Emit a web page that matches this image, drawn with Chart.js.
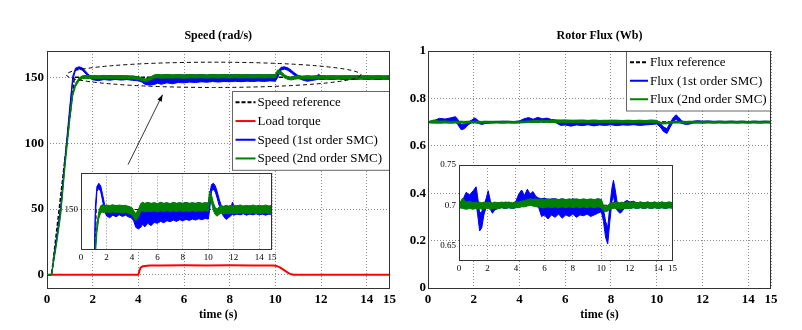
<!DOCTYPE html>
<html lang="en">
<head>
<meta charset="UTF-8">
<title>Speed and Rotor Flux</title>
<script src="https://cdn.jsdelivr.net/npm/chart.js"></script>
<style>
  body { margin: 0; background: #fff; }
  #wrap { position: relative; width: 802px; height: 330px; }
  canvas { position: absolute; }
</style>
</head>
<body>
<div id="wrap">
  <canvas id="speedChart" width="400" height="330" style="left:0;top:0"></canvas>
  <canvas id="speedZoom" width="220" height="100" style="left:60px;top:165px"></canvas>
  <canvas id="fluxChart" width="400" height="330" style="left:400px;top:0"></canvas>
  <canvas id="fluxZoom" width="250" height="125" style="left:430px;top:155px"></canvas>
</div>

<script>
// ---- data ----
const timeTicks = [0, 2, 4, 6, 8, 10, 12, 14, 15];
const speedTicks = [0, 50, 100, 150];
const speedZoomTicks = [150];
const fluxTicks = [0, 0.2, 0.4, 0.6, 0.8, 1];
const fluxZoomTicks = [0.65, 0.7, 0.75];

// speed reference and load torque
const refT = [0, 0.2, 1.2, 15];
const refV = [0, 0, 150, 150];
const torqueT = [0, 4.0, 4.05, 4.1, 4.2, 4.3, 4.5, 5.0, 6.0, 7.0, 8.0, 9.0, 9.9, 10.0, 10.1, 10.2, 10.3, 10.4, 10.5, 10.6, 10.7, 10.8, 12.0, 15.0];
const torqueV = [0, 0, 3.2, 5.5, 6.5, 6.8, 7.0, 7.1, 7.2, 7.1, 7.2, 7.1, 7.1, 6.9, 6.4, 5.6, 4.5, 3.4, 2.2, 1.1, 0.4, 0.1, 0, 0];

// speed responses: upper / lower edge of the chattering band
const speedT = [0, 0.2, 0.4, 0.6, 0.8, 1.0, 1.13, 1.25, 1.4, 1.55, 1.7, 1.85,
  2.0, 2.25, 2.5, 2.75, 3.0, 3.25, 3.5, 3.75, 4.0, 4.15, 4.3, 4.5, 4.7, 4.85,
  5.0, 5.25, 5.5, 5.75, 6.0, 6.25, 6.5, 6.75, 7.0, 7.25, 7.5, 7.75, 8.0, 8.25, 8.5, 8.75, 9.0, 9.25, 9.5, 9.75,
  10.0, 10.1, 10.25, 10.4, 10.55, 10.7, 10.85, 11.0, 11.2, 11.4, 11.6, 11.8, 11.9,
  12.0, 12.25, 12.5, 12.75, 13.0, 13.25, 13.5, 13.75, 14.0, 14.25, 14.5, 14.75, 15.0];
const smc1Hi = [0, 0.5, 26, 52, 91, 128, 151, 157, 158, 157.2, 154.5, 151.6,
  150.6, 151.0, 150.7, 151.3, 150.8, 151.2, 150.6, 151.0, 150.3, 149.2, 147.9, 148.3, 151.2, 151.9,
  151.5, 152.1, 151.6, 152.0, 151.7, 152.1, 151.8, 152.0, 151.7, 152.1, 151.8, 152.0, 151.9, 152.2, 151.8, 152.0, 151.9, 152.1, 151.8, 152.0,
  151.9, 154.5, 157.6, 158.0, 157.2, 155.4, 153.2, 151.4, 150.3, 149.3, 150.2, 151.0, 152.3,
  150.9, 151.1, 150.7, 151.0, 150.8, 151.2, 150.7, 151.0, 150.8, 151.1, 150.7, 151.0, 150.8];
const smc1Lo = [0, 0, 24, 49, 88, 125, 148, 155.5, 156.5, 155.4, 152.6, 149.6,
  148.1, 147.5, 148.3, 147.8, 148.4, 147.9, 148.3, 147.7, 147.4, 146.4, 144.6, 144.1, 144.6, 145.6,
  144.7, 145.8, 145.1, 146.1, 145.8, 146.4, 146.0, 146.6, 146.3, 146.8, 146.4, 146.9, 146.6, 147.0, 146.7, 147.1, 146.8, 147.2, 146.9, 147.3,
  147.1, 149.8, 155.6, 156.2, 155.3, 153.4, 151.2, 149.4, 147.9, 147.0, 147.6, 148.2, 148.6,
  148.3, 148.6, 148.4, 148.7, 148.3, 148.6, 148.4, 148.7, 148.4, 148.6, 148.3, 148.6, 148.5];
const smc2Hi = [0, 0.5, 23, 48, 87, 121, 139, 145.5, 149.5, 151.2, 151.5, 151.1,
  151.4, 151.2, 151.5, 151.1, 151.4, 151.2, 151.3, 150.9, 150.6, 149.6, 148.8, 150.0, 151.9, 152.2,
  151.9, 152.2, 151.9, 152.1, 151.8, 152.2, 151.9, 152.1, 151.8, 152.2, 151.9, 152.1, 151.8, 152.2, 151.9, 152.1, 151.8, 152.2, 151.9, 152.1,
  152.0, 155.6, 154.4, 152.0, 150.6, 150.2, 150.9, 151.2, 151.0, 151.3, 151.1, 151.3, 151.0,
  151.3, 151.1, 151.4, 151.1, 151.3, 151.0, 151.4, 151.1, 151.3, 151.1, 151.4, 151.1, 151.3];
const smc2Lo = [0, 0, 21, 45, 84, 118, 136, 143, 147.3, 149.0, 149.2, 149.0,
  149.3, 149.0, 149.3, 149.1, 149.2, 148.9, 149.2, 148.8, 148.4, 147.5, 146.6, 147.6, 149.5, 149.6,
  149.3, 149.5, 149.4, 149.6, 149.3, 149.6, 149.4, 149.7, 149.4, 149.6, 149.4, 149.7, 149.4, 149.6, 149.5, 149.7, 149.4, 149.6, 149.5, 149.7,
  149.5, 153.3, 152.0, 149.6, 148.4, 148.0, 148.6, 148.9, 148.7, 148.9, 148.7, 148.9, 148.8,
  148.9, 148.8, 149.0, 148.8, 148.9, 148.7, 149.0, 148.8, 148.9, 148.8, 149.0, 148.8, 148.9];

// rotor flux
const fluxRefT = [0, 15];
const fluxRefV = [0.7, 0.7];
const fluxT = [0, 0.25, 0.5, 0.75, 1.0, 1.2, 1.3, 1.45, 1.6, 1.75, 1.9, 2.05, 2.2, 2.35,
  2.5, 2.75, 3.0, 3.25, 3.5, 3.75, 4.0, 4.2, 4.4, 4.6, 4.8, 5.0, 5.2, 5.4, 5.6, 5.8,
  6.0, 6.25, 6.5, 6.75, 7.0, 7.25, 7.5, 7.75, 8.0, 8.25, 8.5, 8.75, 9.0, 9.25, 9.5, 9.75, 10.0,
  10.15, 10.3, 10.45, 10.6, 10.75, 10.85, 10.95, 11.1, 11.3, 11.45, 11.6, 11.8,
  12.0, 12.25, 12.5, 12.75, 13.0, 13.25, 13.5, 13.75, 14.0, 14.25, 14.5, 14.75, 15.0];
const flux1Hi = [0.702, 0.706, 0.716, 0.713, 0.718, 0.723, 0.712, 0.690, 0.692, 0.700, 0.708, 0.718, 0.706, 0.698,
  0.702, 0.703, 0.702, 0.704, 0.703, 0.702, 0.705, 0.714, 0.719, 0.712, 0.720, 0.714, 0.717, 0.711, 0.709, 0.708,
  0.709, 0.707, 0.708, 0.708, 0.707, 0.708, 0.707, 0.706, 0.708, 0.707, 0.706, 0.707, 0.706, 0.707, 0.706, 0.708, 0.707,
  0.695, 0.680, 0.672, 0.700, 0.722, 0.731, 0.722, 0.705, 0.698, 0.700, 0.704, 0.706,
  0.704, 0.705, 0.703, 0.704, 0.703, 0.704, 0.703, 0.704, 0.702, 0.704, 0.703, 0.704, 0.703];
const flux1Lo = [0.698, 0.697, 0.698, 0.699, 0.700, 0.702, 0.690, 0.668, 0.672, 0.688, 0.697, 0.700, 0.695, 0.690,
  0.694, 0.696, 0.697, 0.696, 0.697, 0.696, 0.697, 0.699, 0.701, 0.700, 0.702, 0.701, 0.702, 0.700, 0.697, 0.686,
  0.688, 0.683, 0.688, 0.685, 0.689, 0.684, 0.688, 0.686, 0.689, 0.685, 0.688, 0.687, 0.689, 0.686, 0.688, 0.690, 0.692,
  0.680, 0.660, 0.652, 0.680, 0.705, 0.712, 0.702, 0.694, 0.690, 0.692, 0.696, 0.697,
  0.696, 0.697, 0.696, 0.697, 0.696, 0.697, 0.696, 0.697, 0.696, 0.697, 0.696, 0.697, 0.697];
const flux2Hi = [0.701, 0.709, 0.704, 0.705, 0.703, 0.704, 0.703, 0.704, 0.703, 0.704, 0.703, 0.704, 0.703, 0.703,
  0.704, 0.703, 0.704, 0.703, 0.704, 0.703, 0.704, 0.704, 0.705, 0.706, 0.707, 0.708, 0.707, 0.708, 0.707, 0.708,
  0.707, 0.708, 0.707, 0.708, 0.707, 0.708, 0.707, 0.708, 0.707, 0.708, 0.707, 0.708, 0.707, 0.708, 0.707, 0.708, 0.707,
  0.700, 0.698, 0.700, 0.702, 0.703, 0.704, 0.703, 0.704, 0.703, 0.704, 0.703, 0.704,
  0.703, 0.704, 0.703, 0.704, 0.703, 0.704, 0.703, 0.704, 0.703, 0.704, 0.703, 0.704, 0.703];
const flux2Lo = [0.697, 0.696, 0.695, 0.696, 0.695, 0.696, 0.695, 0.696, 0.695, 0.696, 0.696, 0.696, 0.695, 0.696,
  0.696, 0.696, 0.697, 0.696, 0.697, 0.696, 0.697, 0.697, 0.698, 0.698, 0.699, 0.700, 0.699, 0.698, 0.698, 0.697,
  0.697, 0.698, 0.697, 0.698, 0.697, 0.698, 0.697, 0.698, 0.697, 0.698, 0.697, 0.698, 0.697, 0.698, 0.697, 0.698, 0.697,
  0.693, 0.692, 0.693, 0.695, 0.696, 0.696, 0.696, 0.696, 0.695, 0.696, 0.696, 0.696,
  0.696, 0.697, 0.696, 0.697, 0.696, 0.697, 0.696, 0.697, 0.696, 0.697, 0.696, 0.697, 0.696];

// ---- styling ----
const FONT = "'Liberation Serif', 'Times New Roman', serif";
const BLUE = '#0000ff', GREEN = '#008000', RED = '#ff0000', BLACK = '#000000';
const GRID = '#8c8c8c';

function pts(t, v) { return t.map((x, i) => ({ x: x, y: v[i] })); }

function line(t, v, color, w, dash) {
    return { data: pts(t, v), borderColor: color, borderWidth: w, borderDash: dash || [],
             pointRadius: 0, fill: false, tension: 0, clip: 0 };
}

// chattering band: upper edge filled down to lower edge
function band(t, hi, lo, color, w) {
    return [
        { data: pts(t, hi), borderColor: color, backgroundColor: color, borderWidth: w,
          pointRadius: 0, fill: '+1', tension: 0, clip: 0 },
        { data: pts(t, lo), borderColor: color, backgroundColor: color, borderWidth: w,
          pointRadius: 0, fill: false, tension: 0, clip: 0 }
    ];
}

function scales(o) {
    return {
        x: {
            type: 'linear', min: 0, max: 15,
            afterBuildTicks: s => { s.ticks = timeTicks.map(v => ({ value: v })); },
            afterFit: s => { s.height = o.xh; },
            grid: { color: GRID, lineWidth: 1, drawTicks: false },
            border: { display: false, dash: [1, 2] },
            ticks: { padding: o.pad, color: '#000', maxRotation: 0, autoSkip: false,
                     font: { family: FONT, size: o.fs, weight: o.bold ? 'bold' : 'normal' } },
            title: { display: !!o.xTitle, text: o.xTitle || '', color: '#000', padding: { top: 0, bottom: 8 },
                     font: { family: FONT, size: 12, weight: 'bold' } }
        },
        y: {
            type: 'linear', min: o.ymin, max: o.ymax,
            afterBuildTicks: s => { s.ticks = o.yTicks.map(v => ({ value: v })); },
            afterFit: s => { s.width = o.yw; },
            grid: { color: GRID, lineWidth: 1, drawTicks: false },
            border: { display: false, dash: [1, 2] },
            ticks: { padding: o.ypad, color: '#000', autoSkip: false, callback: v => '' + v,
                     font: { family: FONT, size: o.fs, weight: o.bold ? 'bold' : 'normal' } }
        }
    };
}

// frame, title, legend and the zoom ellipse/arrow
function deco(d) {
    return {
        id: 'deco',
        beforeDraw(chart) {
            if (!d.blank) return;
            const a = chart.chartArea, c = chart.ctx;
            c.save();
            c.fillStyle = '#fff';
            c.fillRect(a.left, a.top, a.right - a.left, a.bottom - a.top);
            c.restore();
        },
        afterDatasetsDraw(chart) {
            const a = chart.chartArea, c = chart.ctx;
            const sx = chart.scales.x, sy = chart.scales.y;
            c.save();
            if (d.ellipse) {
                const e = d.ellipse;
                const cx = sx.getPixelForValue(e.t), cy = sy.getPixelForValue(e.v);
                const rx = sx.getPixelForValue(e.t + e.rt) - cx;
                const ry = cy - sy.getPixelForValue(e.v + e.rv);
                c.strokeStyle = '#000'; c.lineWidth = 1; c.setLineDash([4, 3]);
                c.beginPath(); c.ellipse(cx, cy, rx, ry, 0, 0, Math.PI * 2); c.stroke();
                c.setLineDash([]);
            }
            if (d.arrow) {
                const r = d.arrow;
                const x1 = sx.getPixelForValue(r.t1), y1 = sy.getPixelForValue(r.v1);
                const x2 = sx.getPixelForValue(r.t2), y2 = sy.getPixelForValue(r.v2);
                const ang = Math.atan2(y2 - y1, x2 - x1);
                c.strokeStyle = '#000'; c.fillStyle = '#000'; c.lineWidth = 0.8;
                c.beginPath(); c.moveTo(x1, y1); c.lineTo(x2, y2); c.stroke();
                c.beginPath();
                c.moveTo(x2, y2);
                c.lineTo(x2 - 7 * Math.cos(ang - 0.35), y2 - 7 * Math.sin(ang - 0.35));
                c.lineTo(x2 - 7 * Math.cos(ang + 0.35), y2 - 7 * Math.sin(ang + 0.35));
                c.closePath(); c.fill();
            }
            if (d.legend) {
                const L = d.legend;
                const left = a.right - L.width, top = a.top + L.top;
                const h = L.rowH * L.items.length + 4;
                c.fillStyle = '#fff';
                c.fillRect(left, top, L.width, h);
                c.strokeStyle = '#666'; c.lineWidth = 1;
                c.strokeRect(Math.round(left) + 0.5, Math.round(top) + 0.5, L.width - 1, h);
                c.font = '13px ' + FONT;
                c.textBaseline = 'middle';
                L.items.forEach((it, i) => {
                    const y = top + 2 + L.rowH * (i + 0.5);
                    c.strokeStyle = it.color; c.lineWidth = 2;
                    c.setLineDash(it.dash ? [4, 2] : []);
                    c.beginPath(); c.moveTo(left + 4, y); c.lineTo(left + L.line, y); c.stroke();
                    c.setLineDash([]);
                    c.fillStyle = '#000';
                    c.fillText(it.text, left + L.line + 2, y + 0.5);
                });
            }
            c.strokeStyle = '#333'; c.lineWidth = 1;
            c.strokeRect(Math.round(a.left) + 0.5, Math.round(a.top) + 0.5,
                         Math.round(a.right - a.left) - 1, Math.round(a.bottom - a.top));
            if (d.title) {
                c.fillStyle = '#000';
                c.font = 'bold 12px ' + FONT;
                c.textAlign = 'center'; c.textBaseline = 'middle';
                c.fillText(d.title, (a.left + a.right) / 2, 36);
            }
            c.restore();
        }
    };
}

function draw(id, datasets, layoutPad, sc, d) {
    return new Chart(document.getElementById(id), {
        type: 'line',
        data: { datasets: datasets },
        options: {
            responsive: false,
            animation: false,
            events: [],
            layout: { padding: layoutPad },
            plugins: { legend: { display: false }, tooltip: { enabled: false }, title: { display: false } },
            scales: sc
        },
        plugins: [deco(d)]
    });
}

// ---- speed ----
draw('speedChart',
    [].concat(band(speedT, smc2Hi, smc2Lo, GREEN, 1), band(speedT, smc1Hi, smc1Lo, BLUE, 1),
              [line(torqueT, torqueV, RED, 2), line(refT, refV, BLACK, 1.5, [4, 2])]),
    { left: 0, top: 51, right: 9, bottom: 0 },
    scales({ xh: 42, yw: 47, pad: 4, ypad: 3, fs: 13, bold: true, xTitle: 'time (s)',
             ymin: -10, ymax: 170, yTicks: speedTicks }),
    {
        title: 'Speed (rad/s)',
        ellipse: { t: 7.3, v: 151.9, rt: 6.45, rv: 9.6 },
        arrow: { t1: 3.55, v1: 83.7, t2: 5.06, v2: 136.8 },
        legend: { top: 40, width: 158, rowH: 18.7, line: 24, items: [
            { text: 'Speed reference', color: BLACK, dash: true },
            { text: 'Load torque', color: RED },
            { text: 'Speed (1st order SMC)', color: BLUE },
            { text: 'Speed (2nd order SMC)', color: GREEN }
        ] }
    });

draw('speedZoom',
    [].concat(band(speedT, smc2Hi, smc2Lo, GREEN, 1), band(speedT, smc1Hi, smc1Lo, BLUE, 1),
              [line(refT, refV, BLACK, 1, [4, 2])]),
    { left: 0, top: 7, right: 8, bottom: 0 },
    scales({ xh: 16, yw: 21, pad: 3, ypad: 3, fs: 9, bold: false,
             ymin: 138, ymax: 161, yTicks: speedZoomTicks }),
    { blank: true });

// ---- rotor flux ----
draw('fluxChart',
    [].concat(band(fluxT, flux2Hi, flux2Lo, GREEN, 1), band(fluxT, flux1Hi, flux1Lo, BLUE, 1),
              [line(fluxRefT, fluxRefV, BLACK, 1.5, [4, 2])]),
    { left: 0, top: 51, right: 29, bottom: 0 },
    scales({ xh: 42, yw: 28, pad: 4, ypad: 2, fs: 13, bold: true, xTitle: 'time (s)',
             ymin: 0, ymax: 1, yTicks: fluxTicks }),
    {
        title: 'Rotor Flux (Wb)',
        legend: { top: 0, width: 145, rowH: 18.5, line: 22, items: [
            { text: 'Flux reference', color: BLACK, dash: true },
            { text: 'Flux (1st order SMC)', color: BLUE },
            { text: 'Flux (2nd order SMC)', color: GREEN }
        ] }
    });

draw('fluxZoom',
    [].concat(band(fluxT, flux2Hi, flux2Lo, GREEN, 1), band(fluxT, flux1Hi, flux1Lo, BLUE, 1),
              [line(fluxRefT, fluxRefV, BLACK, 1, [4, 2])]),
    { left: 0, top: 10, right: 7, bottom: 0 },
    scales({ xh: 20, yw: 29, pad: 3, ypad: 3, fs: 9, bold: false,
             ymin: 0.632, ymax: 0.75, yTicks: fluxZoomTicks }),
    { blank: true });
</script>
</body>
</html>
